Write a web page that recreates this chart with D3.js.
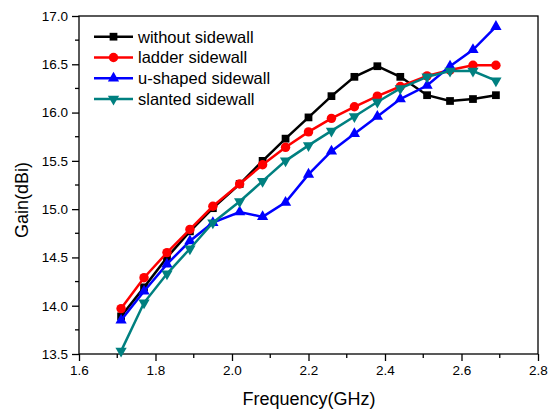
<!DOCTYPE html>
<html><head><meta charset="utf-8">
<script src="https://cdn.jsdelivr.net/npm/d3@7"></script>
<style>body{margin:0;background:#fff}svg{display:block}text{font-family:Arial,"Liberation Sans",sans-serif}</style>
</head><body><svg id="c" width="554" height="410"></svg>
<script>
const freq = [1.71,1.77,1.83,1.89,1.95,2.02,2.08,2.14,2.20,2.26,2.32,2.38,2.44,2.51,2.57,2.63,2.69];
const withoutSidewall = [13.89,14.19,14.50,14.77,15.01,15.26,15.50,15.73,15.95,16.17,16.37,16.48,16.37,16.18,16.12,16.14,16.18];
const ladderSidewall = [13.97,14.29,14.55,14.79,15.03,15.26,15.46,15.64,15.80,15.94,16.06,16.17,16.27,16.38,16.44,16.49,16.49];
const uShapedSidewall = [13.85,14.15,14.43,14.67,14.86,14.97,14.92,15.07,15.36,15.60,15.78,15.96,16.14,16.28,16.48,16.65,16.89];
const slantedSidewall = [13.53,14.03,14.33,14.59,14.86,15.08,15.29,15.50,15.66,15.81,15.96,16.11,16.25,16.37,16.43,16.43,16.33];
const seriesNames = ["without sidewall","ladder sidewall","u-shaped sidewall","slanted sidewall"];
const xTicks = [1.6,1.8,2.0,2.2,2.4,2.6,2.8];
const yTicks = [13.5,14.0,14.5,15.0,15.5,16.0,16.5,17.0];

const series = [
  {name: seriesNames[0], values: withoutSidewall, color: "#000000", sym: d3.symbolSquare, size: 60, rot: 0},
  {name: seriesNames[1], values: ladderSidewall, color: "#ff0000", sym: d3.symbolCircle, size: 70, rot: 0},
  {name: seriesNames[2], values: uShapedSidewall, color: "#0000ff", sym: d3.symbolTriangle, size: 55, rot: 0},
  {name: seriesNames[3], values: slantedSidewall, color: "#008080", sym: d3.symbolTriangle, size: 55, rot: 180}
];

const svg = d3.select("#c");
const L = 79, R = 538, T = 16, B = 354;
const x = d3.scaleLinear().domain([1.6, 2.8]).range([L, R]);
const y = d3.scaleLinear().domain([13.5, 17.0]).range([B, T]);

// frame
svg.append("rect").attr("x", L).attr("y", T).attr("width", R - L).attr("height", B - T)
  .attr("fill", "none").attr("stroke", "#000").attr("stroke-width", 1.3);

// x axis
const xMinor = d3.range(1.7, 2.8, 0.2);
const gx = svg.append("g").attr("transform", `translate(0,${B})`);
gx.call(d3.axisBottom(x).tickValues(xTicks).tickFormat(d3.format(".1f")).tickSize(7).tickPadding(4))
  .call(g => g.select(".domain").remove());
gx.selectAll(".tick line").attr("stroke-width", 1.3);
gx.selectAll("text").attr("font-size", 13.5).attr("fill", "#000");
gx.selectAll(".minor").data(xMinor).enter().append("line")
  .attr("x1", d => x(d)).attr("x2", d => x(d)).attr("y1", 0).attr("y2", 4).attr("stroke", "#000").attr("stroke-width", 1.3);

// y axis
const yMinor = d3.range(13.75, 17.0, 0.5);
const gy = svg.append("g").attr("transform", `translate(${L},0)`);
gy.call(d3.axisLeft(y).tickValues(yTicks).tickFormat(d3.format(".1f")).tickSize(7).tickPadding(4))
  .call(g => g.select(".domain").remove());
gy.selectAll(".tick line").attr("stroke-width", 1.3);
gy.selectAll("text").attr("font-size", 13.5).attr("fill", "#000");
gy.selectAll(".minor").data(yMinor).enter().append("line")
  .attr("y1", d => y(d)).attr("y2", d => y(d)).attr("x1", 0).attr("x2", -4).attr("stroke", "#000").attr("stroke-width", 1.3);

// titles
svg.append("text").attr("x", 309).attr("y", 405).attr("text-anchor", "middle")
  .attr("font-size", 18).text("Frequency(GHz)");
svg.append("text").attr("transform", "translate(28,200) rotate(-90)").attr("text-anchor", "middle")
  .attr("font-size", 18).text("Gain(dBi)");

// series
const line = d3.line().x((d, i) => x(freq[i])).y(d => y(d));
series.forEach(s => {
  svg.append("path").datum(s.values).attr("d", line).attr("fill", "none")
    .attr("stroke", s.color).attr("stroke-width", 2.5).attr("stroke-linejoin", "miter");
  svg.selectAll(null).data(s.values).enter().append("path")
    .attr("d", d3.symbol().type(s.sym).size(s.size))
    .attr("transform", (d, i) => `translate(${x(freq[i])},${y(d)}) rotate(${s.rot})`)
    .attr("fill", s.color);
});

// legend
const legY0 = 36.7, legDy = 20.8;
series.forEach((s, i) => {
  const ly = legY0 + i * legDy;
  svg.append("line").attr("x1", 94).attr("x2", 133).attr("y1", ly).attr("y2", ly)
    .attr("stroke", s.color).attr("stroke-width", 2.5);
  svg.append("path").attr("d", d3.symbol().type(s.sym).size(s.size))
    .attr("transform", `translate(113.5,${ly}) rotate(${s.rot})`).attr("fill", s.color);
  svg.append("text").attr("x", 138).attr("y", ly + 5.8).attr("font-size", 16.5).text(s.name);
});
</script></body></html>
